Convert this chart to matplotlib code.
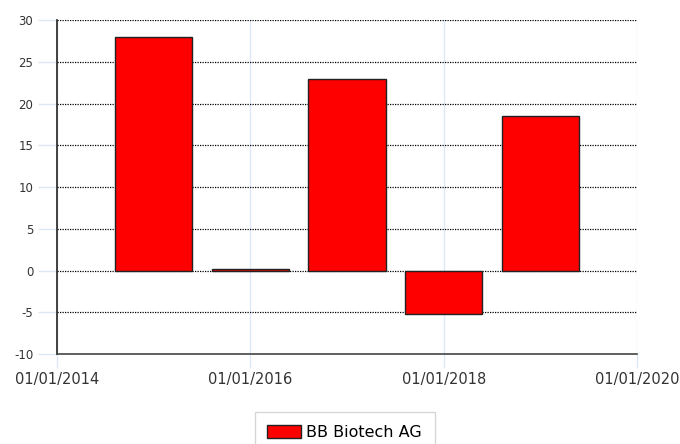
import datetime as dt
import matplotlib
matplotlib.use("Agg")
import matplotlib.pyplot as plt
import matplotlib.dates as mdates

plt.rcParams["axes.unicode_minus"] = False

# yearly performance values (%)
years = [2015, 2016, 2017, 2018, 2019]
values = [28.0, 0.12, 22.9, -5.2, 18.5]
series_name = "BB Biotech AG"
x_ticks = [2014, 2016, 2018, 2020]
y_ticks = [-10, -5, 0, 5, 10, 15, 20, 25, 30]

dates = [dt.date(y, 1, 1) for y in years]
tick_dates = [dt.date(y, 1, 1) for y in x_ticks]

fig = plt.figure(figsize=(6.8, 4.44), dpi=100)
ax = fig.add_axes([57 / 680, 1 - 354 / 444, 580 / 680, 334 / 444])

# light vertical grid at x ticks
for d in tick_dates:
    ax.axvline(d, color="#dce8f5", lw=1, zorder=0)
# dotted horizontal grid
for v in y_ticks[1:]:
    ax.axhline(v, color="black", lw=0.9, ls=(0, (1, 1)), zorder=1)

ax.bar(dates, values, width=292, color="#ff0000", edgecolor="#222222",
       linewidth=1, zorder=2, label=series_name)

ax.set_xlim(tick_dates[0], tick_dates[-1])
ax.set_ylim(-10, 30)
ax.set_yticks(y_ticks)
ax.set_xticks(tick_dates)
ax.xaxis.set_major_formatter(mdates.DateFormatter("%d/%m/%Y"))

ax.spines["top"].set_visible(False)
ax.spines["right"].set_visible(False)
ax.spines["left"].set_color("#222222")
ax.spines["bottom"].set_color("#444444")
ax.spines["left"].set_linewidth(1.2)
ax.spines["bottom"].set_linewidth(1.2)

ax.tick_params(axis="y", length=14, width=1, color="#dce8f5", pad=3,
               labelsize=8.5, labelcolor="#333333")
ax.tick_params(axis="x", length=10, width=1, color="#dce8f5", pad=3,
               labelsize=10.5, labelcolor="#333333")

fig.legend(loc="upper center", bbox_to_anchor=(0.507, 0.072), ncol=1,
           fontsize=11.5, frameon=True, fancybox=False, edgecolor="#cccccc",
           handlelength=2.1, handleheight=0.9, borderpad=0.8,
           borderaxespad=0, handletextpad=0.35)

fig.savefig("out.png", dpi=100)
